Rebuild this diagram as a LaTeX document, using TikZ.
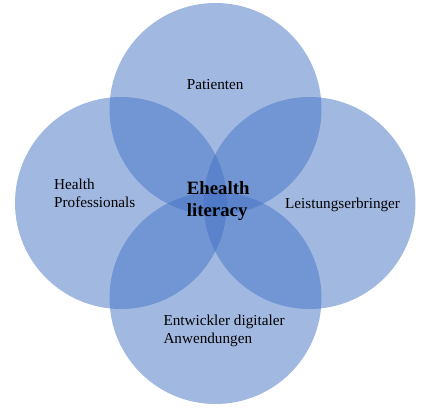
\documentclass[tikz,border=0pt]{standalone}
\usepackage{fontspec}
\setmainfont{Liberation Serif}
\begin{document}
\begin{tikzpicture}[x=1pt,y=-1pt,
  ring/.style={circle, minimum size=212pt, inner sep=0pt, fill={rgb,255:red,68;green,114;blue,196}, fill opacity=0.5},
  lbl/.style={anchor=base west, inner sep=0pt, align=left, font=\fontsize{15.2}{18.5}\selectfont, text=black},
  core/.style={anchor=base west, inner sep=0pt, align=left, font=\fontsize{18.8}{21.8}\selectfont\bfseries, text=black}]
\useasboundingbox (0,0) rectangle (424,410);
\node[ring] (top) at (215.5,109) {};
\node[ring] (left) at (121,203) {};
\node[ring] (right) at (309.5,203) {};
\node[ring] (bottom) at (215.5,298) {};
\node[lbl] (pat) at (186.7,89) {Patienten};
\node[lbl] (hp) at (54,207.5) {Health\\Professionals};
\node[lbl] (lb) at (285,208) {Leistungserbringer};
\node[lbl] (ent) at (163.3,343.5) {Entwickler digitaler\\Anwendungen};
\node[core] (eh) at (186.7,216) {Ehealth\\literacy};
\end{tikzpicture}
\end{document}
